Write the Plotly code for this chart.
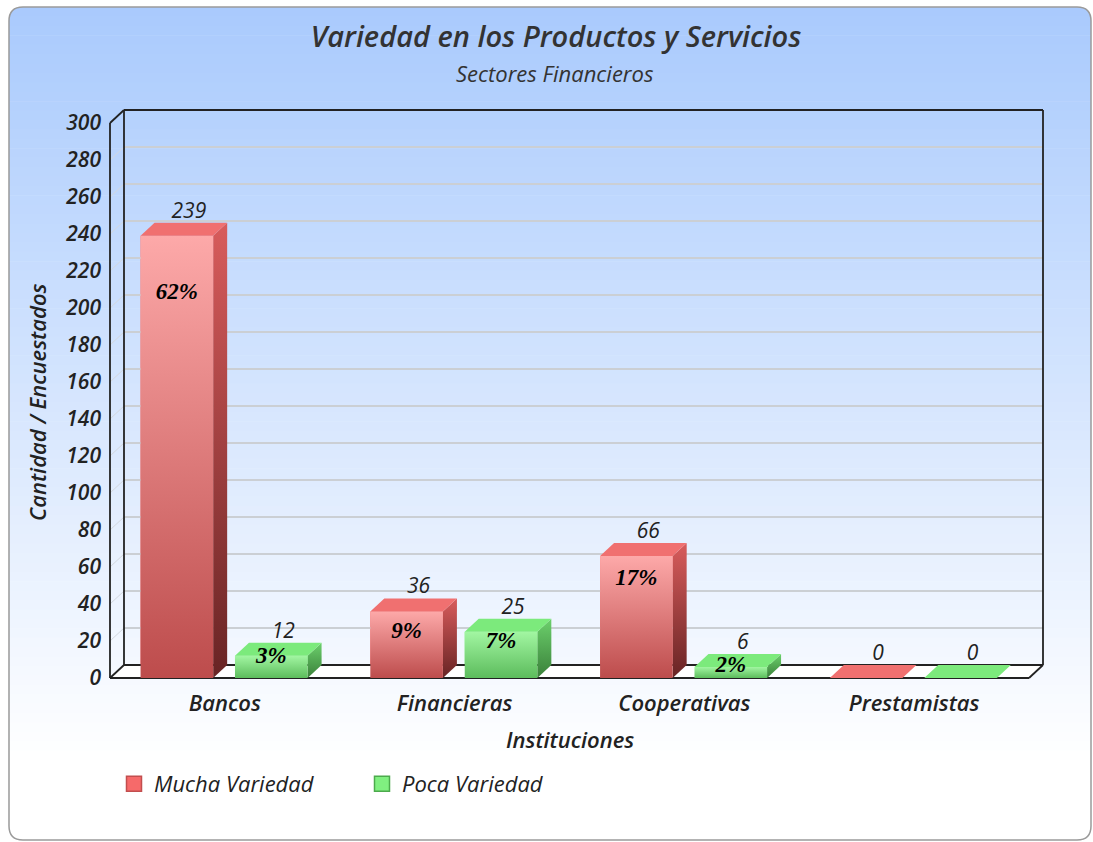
import plotly.graph_objects as go

# ---------------- data ----------------
categories = ["Bancos", "Financieras", "Cooperativas", "Prestamistas"]
series_names = ["Mucha Variedad", "Poca Variedad"]
mucha_variedad = [239, 36, 66, 0]
poca_variedad = [12, 25, 6, 0]
mucha_pct = ["62%", "9%", "17%", ""]
poca_pct = ["3%", "7%", "2%", ""]
y_tick_values = list(range(0, 301, 20))

# ---------------- layout constants ----------------
W, H = 1093, 842
FRONT_L, BACK_R = 110, 1043      # px: front-left edge / back-right edge
BACK_T, FRONT_B = 110, 678       # px: back-top edge / front floor line
DEPTH_X, DEPTH_Y = 14, 13        # px depth of the 3D effect
PAD = 4
N = len(categories)
Y_MAX = 300
ppx = (BACK_R - FRONT_L - DEPTH_X) / N
ppy = (FRONT_B - BACK_T - DEPTH_Y) / Y_MAX
DX = DEPTH_X / ppx
DY = DEPTH_Y / ppy
X0, X1 = -0.5, N - 0.5
PL, PR, PT, PB = FRONT_L - PAD, BACK_R + PAD, BACK_T - PAD, FRONT_B + PAD
x_range = [X0 - PAD / ppx, X1 + DX + PAD / ppx]
y_range = [-PAD / ppy, Y_MAX + DY + PAD / ppy]


def fx(p):
    return (p - PL) / (PR - PL)


def fy(p):
    return (PB - p) / (PB - PT)


BAR_W = 0.316
OFFSETS = [-0.367, 0.044]
# vertical placement of the percentage labels (data units), per series
pct_label_y = [[208, 25, 53.5, None], [11.4, 19.5, 6.6, None]]

styles = [
    dict(legend="#f66a6a", legend_line="#c24e4e",
         front=["#bd4c4c", "#fda9a9"], side=["#682424", "#d85c5c"], top="#f07070"),
    dict(legend="#80f080", legend_line="#4caa4c",
         front=["#5cbc5c", "#a2f6a2"], side=["#3a803a", "#6cd06c"], top="#7cea7c"),
]
values = [mucha_variedad, poca_variedad]
pcts = [mucha_pct, poca_pct]

FONT = "Open Sans"
fig = go.Figure()

# front faces as real bars (covered by the shaded faces below)
for s in range(2):
    fig.add_trace(go.Bar(
        x=list(range(N)), y=values[s], width=BAR_W, offset=OFFSETS[s],
        name=series_names[s], showlegend=False,
        marker=dict(color=styles[s]["legend"], line=dict(width=0)),
        hoverinfo="x+y+name",
    ))


def poly(xs, ys, fill=None, grad=None):
    kw = dict(x=xs + [xs[0]], y=ys + [ys[0]], mode="lines", line=dict(width=0),
              fill="toself", hoverinfo="skip", showlegend=False)
    if grad:
        kw["fillgradient"] = dict(type="vertical", colorscale=[[0, grad[0]], [1, grad[1]]])
        kw["fillcolor"] = grad[1]
    else:
        kw["fillcolor"] = fill
    return go.Scatter(**kw)


def seg_trace(points, color, width):
    xs, ys = [], []
    for (a, b) in points:
        xs += [a[0], b[0], None]
        ys += [a[1], b[1], None]
    return go.Scatter(x=xs, y=ys, mode="lines", line=dict(color=color, width=width),
                      hoverinfo="skip", showlegend=False)


# floor
fig.add_trace(poly([X0, X1, X1 + DX, X0 + DX], [0, 0, DY, DY], fill="#ffffff"))

# grid lines on back wall and left wall
grid_back, grid_left = [], []
for t in y_tick_values[1:-1]:
    grid_back.append(((X0 + DX, t + DY), (X1 + DX, t + DY)))
    grid_left.append(((X0, t), (X0 + DX, t + DY)))
fig.add_trace(seg_trace(grid_back, "#cbcfd4", 2))
fig.add_trace(seg_trace(grid_left, "#d3d8df", 1))

# frame
frame = [
    ((X0 + DX, DY), (X0 + DX, Y_MAX + DY)),
    ((X0 + DX, Y_MAX + DY), (X1 + DX, Y_MAX + DY)),
    ((X1 + DX, Y_MAX + DY), (X1 + DX, DY)),
    ((X0 + DX, DY), (X1 + DX, DY)),
    ((X0, 0), (X0, Y_MAX)),
    ((X0, Y_MAX), (X0 + DX, Y_MAX + DY)),
    ((X0, 0), (X1, 0)),
    ((X1, 0), (X1 + DX, DY)),
    ((X0, 0), (X0 + DX, DY)),
]
fig.add_trace(seg_trace(frame, "#222222", 1.8))

# 3D bars
for j in range(N):
    for s in range(2):
        v = values[s][j]
        a = j + OFFSETS[s]
        b = a + BAR_W
        st = styles[s]
        if v > 0:
            fig.add_trace(poly([b, b + DX, b + DX, b], [0, DY, v + DY, v], grad=st["side"]))
            fig.add_trace(poly([a, b, b, a], [0, 0, v, v], grad=st["front"]))
        fig.add_trace(poly([a, b, b + DX, a + DX], [v, v, v + DY, v + DY], fill=st["top"]))

# value labels
for s in range(2):
    xs = [j + OFFSETS[s] + BAR_W / 2 + DX / 2 + 5 / ppx for j in range(N)]
    ys = [v + DY for v in values[s]]
    fig.add_trace(go.Scatter(
        x=xs, y=ys, mode="text", text=[str(v) for v in values[s]],
        textposition="top center", cliponaxis=False, hoverinfo="skip", showlegend=False,
        textfont=dict(family=FONT, size=21, style="italic", color="#222222"),
    ))

# percentage labels
for s in range(2):
    xs, ys, tx = [], [], []
    for j in range(N):
        if pcts[s][j]:
            xs.append(j + OFFSETS[s] + BAR_W / 2)
            ys.append(pct_label_y[s][j])
            tx.append(pcts[s][j])
    fig.add_trace(go.Scatter(
        x=xs, y=ys, mode="text", text=tx, textposition="middle center",
        cliponaxis=False, hoverinfo="skip", showlegend=False,
        textfont=dict(family="Liberation Serif", size=23, style="italic", weight=700, color="#000000"),
    ))

# legend entries
for s in range(2):
    fig.add_trace(go.Scatter(
        x=[None], y=[None], mode="markers", name=series_names[s],
        marker=dict(symbol="square", size=15, color=styles[s]["legend"],
                    line=dict(color=styles[s]["legend_line"], width=1.5)),
    ))

# background gradient + rounded border (decoration)
shapes = []
BX0, BY0, BX1, BY1, RAD = 9, 7, 1091, 840, 14
G_TOP, G_BOT = 7, 760
c_top = (169, 202, 253)
c_bot = (255, 255, 255)
steps = 80
for i in range(steps):
    y0 = G_TOP + (G_BOT - G_TOP) * i / steps
    y1 = G_TOP + (G_BOT - G_TOP) * (i + 1) / steps + 0.6
    t = (i + 0.5) / steps
    col = tuple(round(c_top[k] + (c_bot[k] - c_top[k]) * t) for k in range(3))
    shapes.append(dict(type="rect", xref="paper", yref="paper", layer="below",
                       x0=fx(BX0), x1=fx(BX1), y0=fy(y0), y1=fy(min(y1, G_BOT)),
                       fillcolor="rgb(%d,%d,%d)" % col, line=dict(width=0)))


def P(x, y):
    return "%f,%f" % (fx(x), fy(y))


# corner masks (top corners)
shapes.append(dict(type="path", xref="paper", yref="paper", layer="below",
                   path="M%s L%s L%s Q%s %s L%s Z" % (P(0, 0), P(BX0 + RAD, 0), P(BX0 + RAD, BY0),
                                                     P(BX0, BY0), P(BX0, BY0 + RAD), P(0, BY0 + RAD)),
                   fillcolor="#ffffff", line=dict(width=0)))
shapes.append(dict(type="path", xref="paper", yref="paper", layer="below",
                   path="M%s L%s L%s Q%s %s L%s Z" % (P(W, 0), P(BX1 - RAD, 0), P(BX1 - RAD, BY0),
                                                     P(BX1, BY0), P(BX1, BY0 + RAD), P(W, BY0 + RAD)),
                   fillcolor="#ffffff", line=dict(width=0)))
border = ("M%s L%s Q%s %s L%s Q%s %s L%s Q%s %s L%s Q%s %s Z" % (
    P(BX0 + RAD, BY0), P(BX1 - RAD, BY0), P(BX1, BY0), P(BX1, BY0 + RAD),
    P(BX1, BY1 - RAD), P(BX1, BY1), P(BX1 - RAD, BY1),
    P(BX0 + RAD, BY1), P(BX0, BY1), P(BX0, BY1 - RAD),
    P(BX0, BY0 + RAD), P(BX0, BY0), P(BX0 + RAD, BY0)))
shapes.append(dict(type="path", xref="paper", yref="paper", layer="below",
                   path=border, line=dict(color="#9a9a9a", width=1.5)))

annotations = [
    dict(text="Sectores Financieros", x=fx(555), y=fy(73), xref="paper", yref="paper",
         showarrow=False, xanchor="center", yanchor="middle",
         font=dict(family=FONT, size=22, style="italic", weight=500, color="#333333")),
    dict(text="Instituciones", x=fx(570), y=fy(739), xref="paper", yref="paper",
         showarrow=False, xanchor="center", yanchor="middle",
         font=dict(family=FONT, size=22, style="italic", weight=600, color="#222222")),
    dict(text="Cantidad / Encuestados", x=fx(37), y=fy(402), xref="paper", yref="paper",
         showarrow=False, xanchor="center", yanchor="middle", textangle=-90,
         font=dict(family=FONT, size=22, style="italic", weight=600, color="#222222")),
]

fig.update_layout(
    width=W, height=H,
    margin=dict(l=PL, r=W - PR, t=PT, b=H - PB, pad=0),
    paper_bgcolor="#ffffff", plot_bgcolor="rgba(0,0,0,0)",
    font=dict(family=FONT, color="#222222"),
    title=dict(text="Variedad en los Productos y Servicios", x=556 / W, xanchor="center",
               y=1 - 37 / H, yanchor="middle", xref="container", yref="container",
               font=dict(family=FONT, size=29, style="italic", weight=600, color="#333333")),
    xaxis=dict(range=x_range, tickvals=list(range(N)), ticktext=categories,
               showgrid=False, zeroline=False, showline=False, ticks="",
               ticklabelstandoff=6,
               tickfont=dict(family=FONT, size=22, style="italic", weight=600, color="#222222")),
    yaxis=dict(range=y_range, tickvals=y_tick_values, showgrid=False, zeroline=False,
               showline=False, ticks="", ticklabelstandoff=4,
               tickfont=dict(family=FONT, size=21, style="italic", weight=600, color="#222222")),
    barmode="overlay",
    showlegend=True,
    legend=dict(orientation="h", x=fx(114), xanchor="left", y=fy(784), yanchor="middle",
                bgcolor="rgba(0,0,0,0)", entrywidth=203, entrywidthmode="pixels",
                font=dict(family=FONT, size=22, style="italic", color="#222222")),
    shapes=shapes,
    annotations=annotations,
)

fig.write_html("out.html", config={"displayModeBar": False},
               post_script="document.body.style.margin='0px';")
